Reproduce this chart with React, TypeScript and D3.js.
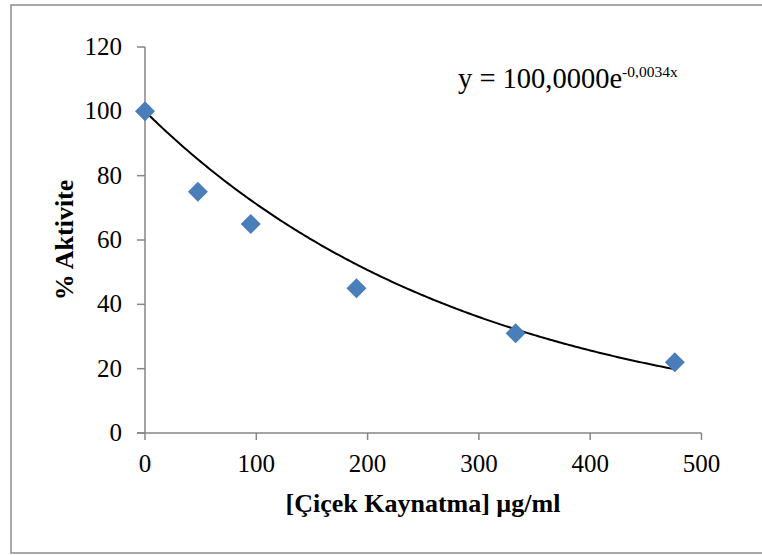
import React from "react";
import * as d3 from "d3";

const concentrations = [0, 47.5, 95, 190, 333, 476];
const activity = [100, 75, 65, 45, 31, 22];
const xTicks = [0, 100, 200, 300, 400, 500];
const yTicks = [0, 20, 40, 60, 80, 100, 120];
const trendA = 100;
const trendB = -0.0034;
const xTitle = "[Çiçek Kaynatma] µg/ml";
const yTitle = "% Aktivite";

const W = 762;
const H = 555;
const FONT = "'Liberation Serif', 'Times New Roman', serif";

export default function App() {
  const x = d3.scaleLinear().domain([0, 500]).range([145, 701.5]);
  const y = d3.scaleLinear().domain([0, 120]).range([433, 47]);
  const trendPts = d3.range(0, 476, 2).concat([476]).map((v) => [v, trendA * Math.exp(trendB * v)] as [number, number]);
  const line = d3.line<[number, number]>().x((d) => x(d[0])).y((d) => y(d[1]));
  const axisColor = "#868686";
  const diamond = (cx: number, cy: number, r: number) =>
    `M${cx},${cy - r}L${cx + r},${cy}L${cx},${cy + r}L${cx - r},${cy}Z`;

  return (
    <svg width={W} height={H} style={{ position: "absolute", left: 0, top: 0, background: "#fff" }} fontFamily={FONT}>
      <rect x={0} y={0} width={W} height={H} fill="#fff" />
      <rect x={11} y={5} width={W + 10} height={548} fill="none" stroke="#8c8c8c" strokeWidth={1.5} />
      {/* axes */}
      <line x1={x(0)} x2={x(0)} y1={y(120)} y2={y(0)} stroke={axisColor} strokeWidth={1.5} />
      <line x1={x(0) - 8} x2={x(500)} y1={y(0)} y2={y(0)} stroke={axisColor} strokeWidth={1.5} />
      {yTicks.map((t) => (
        <g key={"y" + t}>
          <line x1={x(0) - 8} x2={x(0)} y1={y(t)} y2={y(t)} stroke={axisColor} strokeWidth={1.5} />
          <text x={122} y={y(t) + 8} textAnchor="end" fontSize={25} fill="#000">{t}</text>
        </g>
      ))}
      {xTicks.map((t) => (
        <g key={"x" + t}>
          <line x1={x(t)} x2={x(t)} y1={y(0)} y2={y(0) + 7} stroke={axisColor} strokeWidth={1.5} />
          <text x={x(t)} y={472} textAnchor="middle" fontSize={25} fill="#000">{t}</text>
        </g>
      ))}
      {/* trendline */}
      <path d={line(trendPts) || ""} fill="none" stroke="#000" strokeWidth={2} />
      {/* points */}
      {concentrations.map((c, i) => (
        <path key={"p" + i} d={diamond(x(c), y(activity[i]), 10)} fill="#4a7ebb" />
      ))}
      {/* equation */}
      <text x={458} y={88} fontSize={28.5} fill="#000">
        y = 100,0000e
        <tspan fontSize={15.5} dy={-11}>-0,0034x</tspan>
      </text>
      {/* titles */}
      <text x={423} y={512} textAnchor="middle" fontSize={26} fontWeight="bold" fill="#000">{xTitle}</text>
      <text transform={`translate(73,240) rotate(-90)`} textAnchor="middle" fontSize={26} fontWeight="bold" fill="#000">{yTitle}</text>
    </svg>
  );
}
